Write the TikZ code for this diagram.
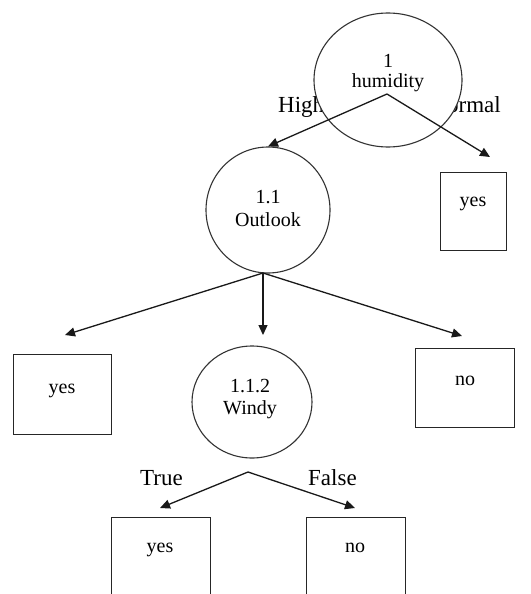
\documentclass[tikz,border=0pt]{standalone}
\usepackage{fontspec}
\setmainfont{Liberation Serif}
\usetikzlibrary{shapes.geometric,arrows.meta}
\begin{document}
\begin{tikzpicture}[x=1pt,y=-1pt,
  oval/.style={ellipse,draw=black!80,line width=1.1pt,fill=white,inner sep=0pt},
  leaf/.style={rectangle,draw=black!85,line width=1.3pt,anchor=north west,inner sep=0pt},
  ttxt/.style={inner sep=0pt,anchor=base,font=\fontsize{20}{23}\selectfont},
  elabel/.style={inner sep=0pt,font=\fontsize{23}{27}\selectfont},
  arr/.style={line width=1.3pt,draw=black!90,-{Triangle[length=10pt,width=9pt]}}]
\clip (0,0) rectangle (530,594);
\fill[white] (0,0) rectangle (530,594);

% branch labels of the root (partly hidden by the root oval)
\node[elabel,anchor=base west] (lhigh) at (278,112) {High};
\node[elabel,anchor=base east] (lnormal) at (501,112) {Normal};

% decision nodes
\node[oval,minimum width=148pt,minimum height=134pt] (hum) at (388,80) {};
\node[oval,minimum width=124pt,minimum height=126pt] (out) at (268,210) {};
\node[oval,minimum width=120pt,minimum height=112pt] (win) at (252,402) {};

\node[ttxt] (hum-id) at (388,67) {1};
\node[ttxt] (hum-attr) at (388,87) {humidity};
\node[ttxt] (out-id) at (268,203) {1.1};
\node[ttxt] (out-attr) at (268,226) {Outlook};
\node[ttxt] (win-id) at (250,392) {1.1.2};
\node[ttxt] (win-attr) at (250,414) {Windy};

% leaves
\node[leaf,minimum width=66pt,minimum height=78pt] (leafA) at (440,172) {};
\node[leaf,minimum width=98pt,minimum height=80pt] (leafB) at (13,354) {};
\node[leaf,minimum width=99pt,minimum height=79pt] (leafC) at (415,348) {};
\node[leaf,minimum width=99pt,minimum height=120pt] (leafD) at (111,517) {};
\node[leaf,minimum width=99pt,minimum height=120pt] (leafE) at (306,517) {};

\node[ttxt] (leafA-t) at (473,206) {yes};
\node[ttxt] (leafB-t) at (62,393) {yes};
\node[ttxt] (leafC-t) at (465,385) {no};
\node[ttxt] (leafD-t) at (160,552) {yes};
\node[ttxt] (leafE-t) at (355,552) {no};

% fork points and arrow tips
\coordinate (humfork) at (387,94);
\coordinate (tipA) at (490,157);
\coordinate (outfork) at (263,273);
\coordinate (tipB) at (65,335);
\coordinate (tipW) at (263,335);
\coordinate (tipC) at (462,336);
\coordinate (winfork) at (248,472);
\coordinate (tipD) at (160,508);
\coordinate (tipE) at (355,508);

\draw[arr] (humfork) -- (out.north);
\draw[arr] (humfork) -- (tipA);
\draw[arr] (outfork) -- (tipB);
\draw[arr] (outfork) -- (tipW);
\draw[arr] (outfork) -- (tipC);
\draw[arr] (winfork) -- (tipD);
\draw[arr] (winfork) -- (tipE);

% branch labels of the Windy node
\node[elabel,anchor=base west] (ltrue) at (140,485) {True};
\node[elabel,anchor=base west] (lfalse) at (308,485) {False};
\end{tikzpicture}
\end{document}
